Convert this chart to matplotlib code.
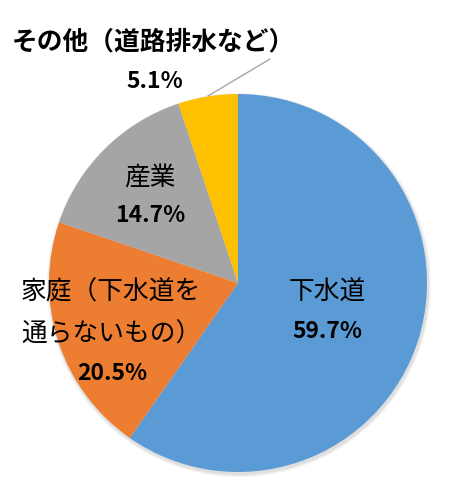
import matplotlib
matplotlib.use("Agg")
import matplotlib.pyplot as plt

plt.rcParams['font.family'] = ['Noto Sans CJK JP', 'DejaVu Sans']

categories = ['下水道', '家庭（下水道を\n通らないもの）', '産業', 'その他（道路排水など）']
values = [59.7, 20.5, 14.7, 5.1]
pct_labels = ['59.7%', '20.5%', '14.7%', '5.1%']
colors = ['#5B9BD5', '#ED7D31', '#A5A5A5', '#FFC000']

W, H = 449, 480
fig = plt.figure(figsize=(W / 100, H / 100), dpi=100)
ax = fig.add_axes([0, 0, 1, 1])

cx, cy, r = 238, H - 283, 189

# soft shadow
for i, a in enumerate([0.04, 0.04, 0.05]):
    ax.add_patch(plt.Circle((cx + 1, cy - 2), r + 3 - i, color='black', alpha=a, lw=0, zorder=0))

ax.pie(values, colors=colors, startangle=90, counterclock=False,
       center=(cx, cy), radius=r, frame=True,
       wedgeprops=dict(linewidth=0))
ax.set_xlim(0, W)
ax.set_ylim(0, H)
ax.axis('off')

def T(x, y, s, **kw):
    ax.text(x, H - y, s, ha='center', va='center', color='black', **kw)

fs_cat = 18.5
fs_pct = 16.5

# 下水道
T(327, 293, categories[0], fontsize=fs_cat)
T(327, 332, pct_labels[0], fontsize=fs_pct, fontweight='bold')
# 家庭
line1, line2 = categories[1].split('\n')
ax.text(21, H - 293, line1, ha='left', va='center', fontsize=fs_cat)
ax.text(21, H - 335, line2, ha='left', va='center', fontsize=fs_cat)
T(112, 374, pct_labels[1], fontsize=fs_pct, fontweight='bold')
# 産業
T(150, 178, categories[2], fontsize=fs_cat)
T(150, 215, pct_labels[2], fontsize=fs_pct, fontweight='bold')
# その他
ax.text(12, H - 42, categories[3], ha='left', va='center', fontsize=fs_cat, fontweight='bold')
T(155, 81, pct_labels[3], fontsize=fs_pct, fontweight='bold')
ax.plot([270, 208], [H - 59, H - 96], color='#A6A6A6', lw=1)

fig.savefig('out.png', dpi=100)
